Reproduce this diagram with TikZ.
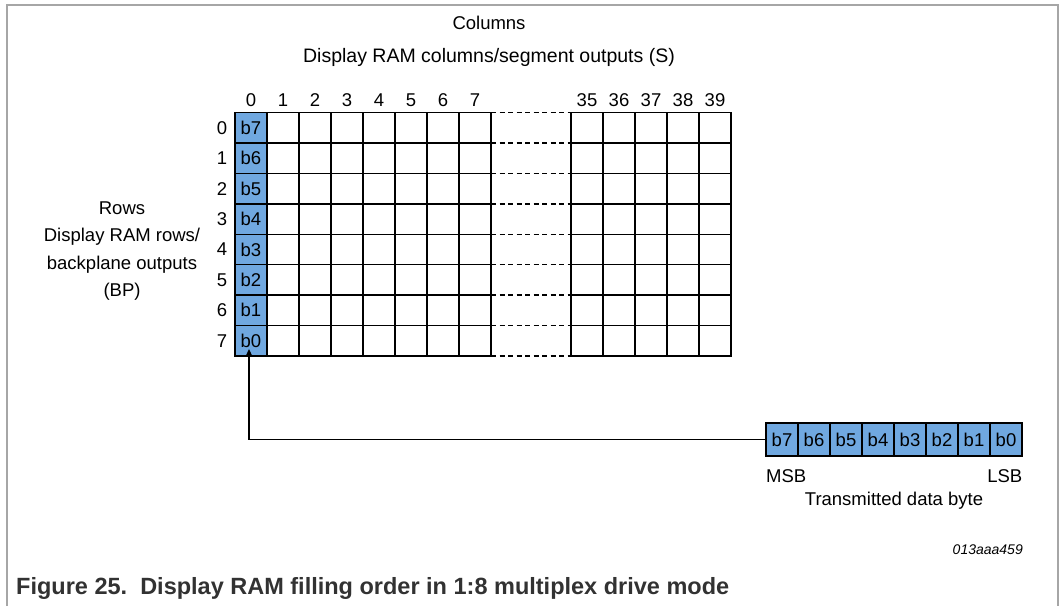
\documentclass[tikz,border=0pt]{standalone}
\usepackage{fontspec}
\setmainfont{Liberation Sans}
\usetikzlibrary{arrows.meta}
\definecolor{cellblue}{RGB}{112,168,224}
\definecolor{framegray}{RGB}{166,166,166}
\definecolor{capgray}{RGB}{50,50,50}
\begin{document}
\begin{tikzpicture}[x=1pt,y=-1pt,
  cell/.style={draw, line width=1.3pt, minimum width=32pt, minimum height=30.4pt, inner sep=0pt, outer sep=0pt, font=\fontsize{18.5}{20}\selectfont},
  bcell/.style={cell, fill=cellblue},
  bytecell/.style={cell, fill=cellblue, minimum height=33pt},
  lbl/.style={font=\fontsize{18.5}{20}\selectfont, inner sep=0pt},
  dline/.style={line width=1.3pt, dash pattern=on 5pt off 3.5pt},
  conn/.style={line width=1.3pt, -{Triangle[length=8pt,width=7pt]}}]
\useasboundingbox (0,0) rectangle (1061,606);
% frame
\draw[framegray, line width=2pt] (7,606) -- (7,5) -- (1058,5) -- (1058,606);
% titles
\node[lbl] (coltitle) at (489,23) {Columns};
\node[lbl, font=\fontsize{19.5}{21}\selectfont] (colsub) at (489,57) {Display RAM columns/segment outputs (S)};
\node[lbl] (rowtitle) at (122,208) {Rows};
\node[lbl] (rowsub1) at (122,237) {Display RAM rows/};
\node[lbl] (rowsub2) at (122,265) {backplane outputs};
\node[lbl] (rowsub3) at (122,292) {(BP)};
% grid
\foreach \r/\b in {0/7,1/6,2/5,3/4,4/3,5/2,6/1,7/0} {
  \pgfmathsetmacro{\yc}{112.7+30.4*(\r+0.5)}
  \node[lbl] (rl-\r) at (222,\yc) {\r};
  \node[bcell] (c-\r-0) at (251,\yc) {b\b};
  \foreach \c in {1,...,7} {
    \node[cell] (c-\r-\c) at ({251+32*\c},\yc) {};
  }
  \foreach \c [count=\k from 0] in {35,...,39} {
    \node[cell] (c-\r-\c) at ({587+32*\k},\yc) {};
  }
  \draw[dline] (c-\r-7.north east) -- (c-\r-35.north west);
}
\draw[dline] (c-7-7.south east) -- (c-7-35.south west);
% column numbers
\foreach \c in {0,...,7} {
  \node[lbl] (cl-\c) at ({251+32*\c},100) {\c};
}
\foreach \c [count=\k from 0] in {35,...,39} {
  \node[lbl] (cl-\c) at ({587+32*\k},100) {\c};
}
% transmitted byte
\foreach \b [count=\i from 0] in {7,6,5,4,3,2,1,0} {
  \node[bytecell] (t-\b) at ({782+32*\i},439.5) {b\b};
}
\node[lbl, anchor=west] (msb) at (766,476) {MSB};
\node[lbl, anchor=east] (lsb) at (1022.5,476) {LSB};
\node[lbl] (tdb) at (894,501) {Transmitted data byte};
% connector
\coordinate (tip) at ([xshift=-2pt,yshift=7pt]c-7-0.south);
\draw[conn] (t-7.west) -| (tip);
% id and caption
\node[lbl, anchor=east, font=\fontsize{14}{16}\selectfont\itshape] (fid) at (1023,550) {013aaa459};
\node[anchor=west, inner sep=0pt, text=capgray, font=\fontsize{23.5}{26}\selectfont\bfseries] (cap) at (16,588) {Figure 25.\ \ Display RAM filling order in 1:8 multiplex drive mode};
\end{tikzpicture}
\end{document}
